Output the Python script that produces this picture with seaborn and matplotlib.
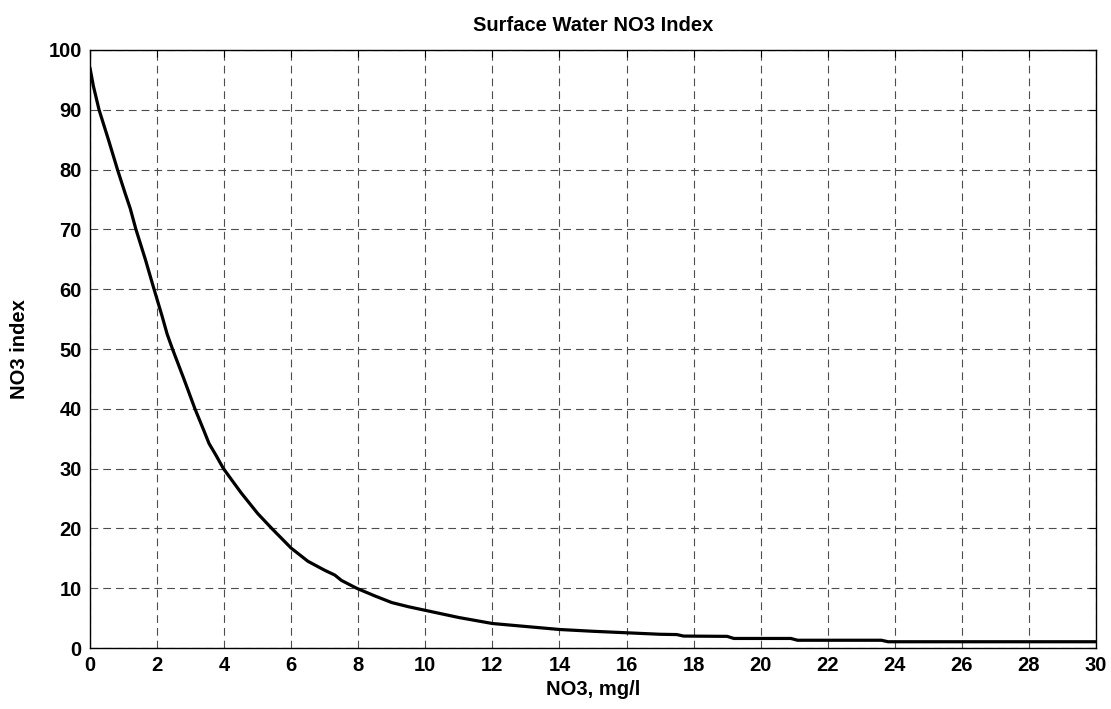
import matplotlib
matplotlib.use("Agg")
import matplotlib.pyplot as plt
import pandas as pd
import seaborn as sns

# NO3 concentration (mg/l) and the index
no3 = [0.0, 0.1, 0.27, 0.55, 0.82, 1.05, 1.2, 1.37, 1.65, 1.91, 2.15, 2.3, 2.46,
       2.8, 3.13, 3.4, 3.55, 3.75, 3.98, 4.5, 5.0, 5.42, 6.0, 6.5, 7.0, 7.3, 7.5,
       7.95, 8.5, 9.0, 9.5, 10.0, 11.0, 12.0, 13.0, 14.0, 15.0, 16.0, 17.0,
       17.5, 17.7, 19.0, 19.2, 20.9, 21.1, 23.6, 23.8, 30.0]
index = [97.0, 94.0, 90.0, 85.0, 80.0, 76.0, 73.5, 70.0, 65.0, 60.0, 55.5, 52.5, 50.0,
         45.0, 40.0, 36.3, 34.2, 32.3, 30.0, 26.0, 22.5, 20.0, 16.7, 14.5, 13.0, 12.2, 11.3,
         10.0, 8.7, 7.6, 6.9, 6.3, 5.1, 4.1, 3.6, 3.1, 2.8, 2.55, 2.3,
         2.25, 2.0, 1.95, 1.6, 1.6, 1.3, 1.3, 1.05, 1.05]

x_ticks = list(range(0, 31, 2))
y_ticks = list(range(0, 101, 10))

df = pd.DataFrame({"no3": no3, "index": index})

sns.set_style("white")
plt.rcParams["font.family"] = ["Liberation Sans", "DejaVu Sans"]
plt.rcParams["font.weight"] = "bold"
plt.rcParams["text.color"] = "black"

fig = plt.figure(figsize=(11.11, 7.09), dpi=100)
ax = fig.add_axes([0.081, 0.086, 0.9055, 0.8435])

sns.lineplot(data=df, x="no3", y="index", color="black", linewidth=2.3, ax=ax)

ax.set_xlim(0, 30)
ax.set_ylim(0, 100)
ax.set_xticks(x_ticks)
ax.set_yticks(y_ticks)
ax.tick_params(direction="in", length=5, width=0.8, top=True, right=True,
               labelsize=14.5, colors="black", pad=6)
for lab in ax.get_xticklabels() + ax.get_yticklabels():
    lab.set_fontweight("bold")

ax.grid(True, color="0.3", linestyle=(0, (7, 4.5)), linewidth=0.8)
for sp in ax.spines.values():
    sp.set_visible(True)
    sp.set_color("black")
    sp.set_linewidth(1.0)

ax.set_title("Surface Water NO3 Index", fontsize=14.5, fontweight="bold",
             color="black", pad=14)
ax.set_xlabel("NO3, mg/l", fontsize=14.5, fontweight="bold", color="black", labelpad=3)
ax.set_ylabel("NO3 index", fontsize=14.5, fontweight="bold", color="black", labelpad=14)

fig.savefig("out.png", dpi=100, facecolor="white")
